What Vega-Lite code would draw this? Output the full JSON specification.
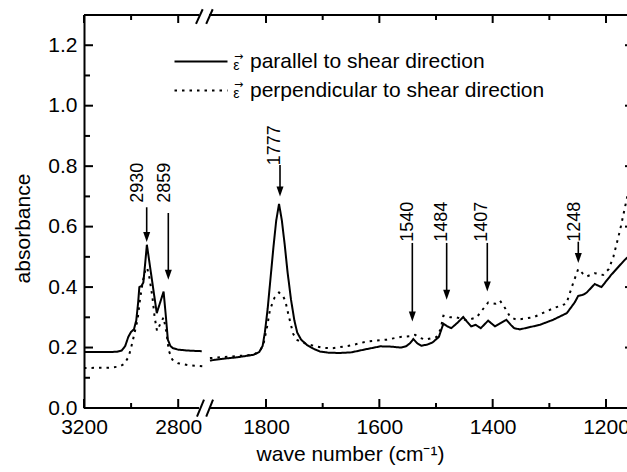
{
  "$schema": "https://vega.github.io/schema/vega-lite/v6.json",
  "width": 550,
  "height": 393,
  "autosize": {"type": "none"},
  "padding": {"left": 84, "top": 15, "right": -7, "bottom": 64},
  "background": "white",
  "config": {
    "view": {"stroke": null},
    "axis": {
      "labelFont": "Liberation Sans",
      "labelFontSize": 21,
      "labelColor": "black",
      "titleFont": "Liberation Sans",
      "titleFontSize": 21,
      "titleFontWeight": "normal",
      "titleColor": "black",
      "domainColor": "black",
      "domainWidth": 2,
      "grid": false,
      "labelOverlap": false,
      "labelFlush": false,
      "labelBound": false
    }
  },
  "datasets": {
    "curves": [
      {"s":"par","g":"L","x":3200,"y":0.185},{"s":"par","g":"L","x":3150,"y":0.185},{"s":"par","g":"L","x":3100,"y":0.185},{"s":"par","g":"L","x":3060,"y":0.186},{"s":"par","g":"L","x":3040,"y":0.19},{"s":"par","g":"L","x":3025,"y":0.205},{"s":"par","g":"L","x":3012,"y":0.235},{"s":"par","g":"L","x":3000,"y":0.252},{"s":"par","g":"L","x":2988,"y":0.26},{"s":"par","g":"L","x":2978,"y":0.29},{"s":"par","g":"L","x":2970,"y":0.35},{"s":"par","g":"L","x":2965,"y":0.40},{"s":"par","g":"L","x":2955,"y":0.405},{"s":"par","g":"L","x":2948,"y":0.415},{"s":"par","g":"L","x":2940,"y":0.48},{"s":"par","g":"L","x":2933,"y":0.54},{"s":"par","g":"L","x":2925,"y":0.497},{"s":"par","g":"L","x":2910,"y":0.416},{"s":"par","g":"L","x":2900,"y":0.362},{"s":"par","g":"L","x":2891,"y":0.314},{"s":"par","g":"L","x":2875,"y":0.353},{"s":"par","g":"L","x":2862,"y":0.385},{"s":"par","g":"L","x":2852,"y":0.30},{"s":"par","g":"L","x":2844,"y":0.226},{"s":"par","g":"L","x":2833,"y":0.205},{"s":"par","g":"L","x":2823,"y":0.198},{"s":"par","g":"L","x":2800,"y":0.193},{"s":"par","g":"L","x":2760,"y":0.19},{"s":"par","g":"L","x":2700,"y":0.188},
      {"s":"perp","g":"L","x":3200,"y":0.132},{"s":"perp","g":"L","x":3150,"y":0.133},{"s":"perp","g":"L","x":3100,"y":0.133},{"s":"perp","g":"L","x":3050,"y":0.137},{"s":"perp","g":"L","x":3030,"y":0.145},{"s":"perp","g":"L","x":3010,"y":0.17},{"s":"perp","g":"L","x":2995,"y":0.215},{"s":"perp","g":"L","x":2985,"y":0.25},{"s":"perp","g":"L","x":2973,"y":0.29},{"s":"perp","g":"L","x":2962,"y":0.36},{"s":"perp","g":"L","x":2950,"y":0.42},{"s":"perp","g":"L","x":2940,"y":0.455},{"s":"perp","g":"L","x":2932,"y":0.465},{"s":"perp","g":"L","x":2922,"y":0.43},{"s":"perp","g":"L","x":2910,"y":0.37},{"s":"perp","g":"L","x":2900,"y":0.30},{"s":"perp","g":"L","x":2890,"y":0.255},{"s":"perp","g":"L","x":2875,"y":0.28},{"s":"perp","g":"L","x":2862,"y":0.30},{"s":"perp","g":"L","x":2850,"y":0.25},{"s":"perp","g":"L","x":2840,"y":0.19},{"s":"perp","g":"L","x":2825,"y":0.16},{"s":"perp","g":"L","x":2800,"y":0.148},{"s":"perp","g":"L","x":2760,"y":0.142},{"s":"perp","g":"L","x":2695,"y":0.138},
      {"s":"par","g":"R","x":1899,"y":0.157},{"s":"par","g":"R","x":1880,"y":0.162},{"s":"par","g":"R","x":1850,"y":0.168},{"s":"par","g":"R","x":1822,"y":0.176},{"s":"par","g":"R","x":1812,"y":0.185},{"s":"par","g":"R","x":1806,"y":0.205},{"s":"par","g":"R","x":1802,"y":0.25},{"s":"par","g":"R","x":1797,"y":0.33},{"s":"par","g":"R","x":1792,"y":0.43},{"s":"par","g":"R","x":1787,"y":0.53},{"s":"par","g":"R","x":1782,"y":0.62},{"s":"par","g":"R","x":1777,"y":0.675},{"s":"par","g":"R","x":1772,"y":0.62},{"s":"par","g":"R","x":1767,"y":0.54},{"s":"par","g":"R","x":1762,"y":0.45},{"s":"par","g":"R","x":1756,"y":0.36},{"s":"par","g":"R","x":1750,"y":0.29},{"s":"par","g":"R","x":1745,"y":0.25},{"s":"par","g":"R","x":1738,"y":0.226},{"s":"par","g":"R","x":1728,"y":0.209},{"s":"par","g":"R","x":1715,"y":0.195},{"s":"par","g":"R","x":1705,"y":0.187},{"s":"par","g":"R","x":1690,"y":0.183},{"s":"par","g":"R","x":1670,"y":0.182},{"s":"par","g":"R","x":1650,"y":0.184},{"s":"par","g":"R","x":1622,"y":0.195},{"s":"par","g":"R","x":1598,"y":0.204},{"s":"par","g":"R","x":1580,"y":0.203},{"s":"par","g":"R","x":1562,"y":0.2},{"s":"par","g":"R","x":1553,"y":0.204},{"s":"par","g":"R","x":1546,"y":0.214},{"s":"par","g":"R","x":1540,"y":0.228},{"s":"par","g":"R","x":1533,"y":0.214},{"s":"par","g":"R","x":1526,"y":0.206},{"s":"par","g":"R","x":1515,"y":0.21},{"s":"par","g":"R","x":1506,"y":0.217},{"s":"par","g":"R","x":1495,"y":0.235},{"s":"par","g":"R","x":1487,"y":0.279},{"s":"par","g":"R","x":1480,"y":0.27},{"s":"par","g":"R","x":1473,"y":0.264},{"s":"par","g":"R","x":1461,"y":0.284},{"s":"par","g":"R","x":1452,"y":0.301},{"s":"par","g":"R","x":1445,"y":0.285},{"s":"par","g":"R","x":1438,"y":0.27},{"s":"par","g":"R","x":1430,"y":0.275},{"s":"par","g":"R","x":1421,"y":0.264},{"s":"par","g":"R","x":1408,"y":0.289},{"s":"par","g":"R","x":1396,"y":0.27},{"s":"par","g":"R","x":1387,"y":0.28},{"s":"par","g":"R","x":1376,"y":0.292},{"s":"par","g":"R","x":1368,"y":0.275},{"s":"par","g":"R","x":1362,"y":0.264},{"s":"par","g":"R","x":1352,"y":0.26},{"s":"par","g":"R","x":1317,"y":0.275},{"s":"par","g":"R","x":1293,"y":0.292},{"s":"par","g":"R","x":1269,"y":0.314},{"s":"par","g":"R","x":1255,"y":0.35},{"s":"par","g":"R","x":1249,"y":0.371},{"s":"par","g":"R","x":1240,"y":0.375},{"s":"par","g":"R","x":1234,"y":0.382},{"s":"par","g":"R","x":1220,"y":0.41},{"s":"par","g":"R","x":1208,"y":0.4},{"s":"par","g":"R","x":1191,"y":0.44},{"s":"par","g":"R","x":1167,"y":0.49},{"s":"par","g":"R","x":1155,"y":0.51},
      {"s":"perp","g":"R","x":1899,"y":0.165},{"s":"perp","g":"R","x":1880,"y":0.168},{"s":"perp","g":"R","x":1850,"y":0.172},{"s":"perp","g":"R","x":1822,"y":0.176},{"s":"perp","g":"R","x":1810,"y":0.19},{"s":"perp","g":"R","x":1804,"y":0.215},{"s":"perp","g":"R","x":1798,"y":0.27},{"s":"perp","g":"R","x":1793,"y":0.325},{"s":"perp","g":"R","x":1785,"y":0.365},{"s":"perp","g":"R","x":1777,"y":0.382},{"s":"perp","g":"R","x":1770,"y":0.37},{"s":"perp","g":"R","x":1766,"y":0.355},{"s":"perp","g":"R","x":1760,"y":0.305},{"s":"perp","g":"R","x":1752,"y":0.245},{"s":"perp","g":"R","x":1745,"y":0.225},{"s":"perp","g":"R","x":1740,"y":0.22},{"s":"perp","g":"R","x":1725,"y":0.21},{"s":"perp","g":"R","x":1712,"y":0.204},{"s":"perp","g":"R","x":1700,"y":0.199},{"s":"perp","g":"R","x":1682,"y":0.198},{"s":"perp","g":"R","x":1650,"y":0.207},{"s":"perp","g":"R","x":1622,"y":0.22},{"s":"perp","g":"R","x":1587,"y":0.226},{"s":"perp","g":"R","x":1563,"y":0.235},{"s":"perp","g":"R","x":1545,"y":0.238},{"s":"perp","g":"R","x":1537,"y":0.242},{"s":"perp","g":"R","x":1528,"y":0.232},{"s":"perp","g":"R","x":1519,"y":0.226},{"s":"perp","g":"R","x":1499,"y":0.235},{"s":"perp","g":"R","x":1492,"y":0.26},{"s":"perp","g":"R","x":1487,"y":0.305},{"s":"perp","g":"R","x":1475,"y":0.30},{"s":"perp","g":"R","x":1464,"y":0.30},{"s":"perp","g":"R","x":1446,"y":0.29},{"s":"perp","g":"R","x":1428,"y":0.30},{"s":"perp","g":"R","x":1418,"y":0.325},{"s":"perp","g":"R","x":1408,"y":0.349},{"s":"perp","g":"R","x":1395,"y":0.345},{"s":"perp","g":"R","x":1387,"y":0.355},{"s":"perp","g":"R","x":1378,"y":0.33},{"s":"perp","g":"R","x":1369,"y":0.301},{"s":"perp","g":"R","x":1358,"y":0.292},{"s":"perp","g":"R","x":1328,"y":0.30},{"s":"perp","g":"R","x":1293,"y":0.33},{"s":"perp","g":"R","x":1270,"y":0.345},{"s":"perp","g":"R","x":1258,"y":0.413},{"s":"perp","g":"R","x":1249,"y":0.46},{"s":"perp","g":"R","x":1241,"y":0.445},{"s":"perp","g":"R","x":1234,"y":0.435},{"s":"perp","g":"R","x":1220,"y":0.446},{"s":"perp","g":"R","x":1205,"y":0.44},{"s":"perp","g":"R","x":1195,"y":0.46},{"s":"perp","g":"R","x":1187,"y":0.50},{"s":"perp","g":"R","x":1175,"y":0.59},{"s":"perp","g":"R","x":1167,"y":0.66},{"s":"perp","g":"R","x":1160,"y":0.72},{"s":"perp","g":"R","x":1155,"y":0.76}
    ],
    "segs": [
      {"x1":3200,"x2":2711.7,"y1":0,"y2":0},{"x1":1900.6,"x2":1150.6,"y1":0,"y2":0},
      {"x1":3200,"x2":2711.7,"y1":1.3,"y2":1.3},{"x1":1900.6,"x2":1150.6,"y1":1.3,"y2":1.3},
      {"x1":2724.4,"y1":1.2704,"x2":2696.0,"y2":1.319},
      {"x1":1905.5,"y1":1.2704,"x2":1894.1,"y2":1.319},
      {"x1":2720.2,"y1":-0.0288,"x2":2690.4,"y2":0.0274},
      {"x1":1905.5,"y1":-0.0288,"x2":1893.5,"y2":0.0274},
      {"x1":3200,"x2":3200,"y1":0,"y2":0.0298},{"x1":2800,"x2":2800,"y1":0,"y2":0.0298},{"x1":1800,"x2":1800,"y1":0,"y2":0.0298},{"x1":1600,"x2":1600,"y1":0,"y2":0.0298},{"x1":1400,"x2":1400,"y1":0,"y2":0.0298},{"x1":1200,"x2":1200,"y1":0,"y2":0.0298},
      {"x1":3000,"x2":3000,"y1":0,"y2":0.0165},{"x1":1700,"x2":1700,"y1":0,"y2":0.0165},{"x1":1500,"x2":1500,"y1":0,"y2":0.0165},{"x1":1300,"x2":1300,"y1":0,"y2":0.0165},
      {"x1":3200,"x2":3200,"y1":1.3,"y2":1.2736},{"x1":2800,"x2":2800,"y1":1.3,"y2":1.2736},{"x1":1800,"x2":1800,"y1":1.3,"y2":1.2736},{"x1":1600,"x2":1600,"y1":1.3,"y2":1.2736},{"x1":1400,"x2":1400,"y1":1.3,"y2":1.2736},{"x1":1200,"x2":1200,"y1":1.3,"y2":1.2736},
      {"x1":3000,"x2":3000,"y1":1.3,"y2":1.2835},{"x1":1700,"x2":1700,"y1":1.3,"y2":1.2835},{"x1":1500,"x2":1500,"y1":1.3,"y2":1.2835},{"x1":1300,"x2":1300,"y1":1.3,"y2":1.2835},
      {"x1":3200,"x2":3161.8,"y1":0.2,"y2":0.2},{"x1":3200,"x2":3161.8,"y1":0.4,"y2":0.4},{"x1":3200,"x2":3161.8,"y1":0.6,"y2":0.6},{"x1":3200,"x2":3161.8,"y1":0.8,"y2":0.8},{"x1":3200,"x2":3161.8,"y1":1.0,"y2":1.0},{"x1":3200,"x2":3161.8,"y1":1.2,"y2":1.2},
      {"x1":3200,"x2":3174.5,"y1":0.1,"y2":0.1},{"x1":3200,"x2":3174.5,"y1":0.3,"y2":0.3},{"x1":3200,"x2":3174.5,"y1":0.5,"y2":0.5},{"x1":3200,"x2":3174.5,"y1":0.7,"y2":0.7},{"x1":3200,"x2":3174.5,"y1":0.9,"y2":0.9},{"x1":3200,"x2":3174.5,"y1":1.1,"y2":1.1},
      {"x1":1150.6,"x2":1166.5,"y1":0.2,"y2":0.2},{"x1":1150.6,"x2":1166.5,"y1":0.4,"y2":0.4},{"x1":1150.6,"x2":1166.5,"y1":0.6,"y2":0.6},{"x1":1150.6,"x2":1166.5,"y1":0.8,"y2":0.8},{"x1":1150.6,"x2":1166.5,"y1":1.0,"y2":1.0},{"x1":1150.6,"x2":1166.5,"y1":1.2,"y2":1.2},
      {"x1":1150.6,"x2":1161.2,"y1":0.1,"y2":0.1},{"x1":1150.6,"x2":1161.2,"y1":0.3,"y2":0.3},{"x1":1150.6,"x2":1161.2,"y1":0.5,"y2":0.5},{"x1":1150.6,"x2":1161.2,"y1":0.7,"y2":0.7},{"x1":1150.6,"x2":1161.2,"y1":0.9,"y2":0.9},{"x1":1150.6,"x2":1161.2,"y1":1.1,"y2":1.1}
    ],
    "arrows": [
      {"t":"2930","x":2933.8,"top":0.664,"head":0.566,"tx":2969.4,"ty":0.745},
      {"t":"2859","x":2842.0,"top":0.645,"head":0.441,"tx":2854.0,"ty":0.745},
      {"t":"1777","x":1775.3,"top":0.804,"head":0.716,"tx":1784.1,"ty":0.869},
      {"t":"1540","x":1541.8,"top":0.546,"head":0.303,"tx":1550.3,"ty":0.616},
      {"t":"1484","x":1481.2,"top":0.546,"head":0.375,"tx":1490.0,"ty":0.616},
      {"t":"1407","x":1409.5,"top":0.546,"head":0.402,"tx":1418.0,"ty":0.616},
      {"t":"1248","x":1248.9,"top":0.550,"head":0.496,"tx":1254.7,"ty":0.616}
    ],
    "eps": [
      {"x":1852.1,"y":1.1316,"ax":1848.5,"ay":1.1613},
      {"x":1852.1,"y":1.039,"ax":1848.5,"ay":1.0688}
    ]
  },
  "layer": [
    {
      "data": {"name": "segs"},
      "mark": {"type": "rule", "color": "black", "strokeWidth": 2},
      "encoding": {
        "x": {
          "field": "x1", "type": "quantitative",
          "scale": {"domain": [3200, 2686.2, 1905.9, 1150.6], "range": [0, 121, 122, 550], "nice": false, "zero": false},
          "axis": {
            "orient": "bottom",
            "values": [3200, 2800, 1800, 1600, 1400, 1200],
            "format": "d",
            "ticks": false,
            "labelPadding": 8,
            "domain": false,
            "title": "wave number (cm⁻¹)",
            "titleX": 266,
            "titleY": 35,
            "titleBaseline": "top"
          }
        },
        "x2": {"field": "x2"},
        "y": {
          "field": "y1", "type": "quantitative",
          "scale": {"domain": [0, 1.3], "nice": false, "zero": false},
          "axis": {
            "orient": "left",
            "values": [0, 0.2, 0.4, 0.6, 0.8, 1.0, 1.2],
            "format": ".1f",
            "ticks": false,
            "labelPadding": 7,
            "domain": true,
            "title": "absorbance",
            "titleAngle": 270,
            "titleBaseline": "bottom",
            "titleX": -51,
            "titleY": 213
          }
        },
        "y2": {"field": "y2"}
      }
    },
    {
      "data": {"name": "curves"},
      "mark": {"type": "line", "color": "black", "strokeWidth": 2, "clip": false},
      "encoding": {
        "x": {"field": "x", "type": "quantitative", "title": "wave number (cm⁻¹)"},
        "y": {"field": "y", "type": "quantitative", "title": "absorbance"},
        "strokeDash": {
          "field": "s", "type": "nominal",
          "scale": {"domain": ["par", "perp"], "range": [[1, 0], [2.5, 5]]},
          "legend": {
            "orient": "none",
            "legendX": 80,
            "legendY": 36,
            "title": null,
            "padding": 0,
            "symbolType": "M0,0H20",
            "symbolSize": 28.09,
            "symbolStrokeWidth": 2,
            "symbolStrokeColor": "black",
            "symbolFillColor": "transparent",
            "labelFont": "Liberation Sans",
            "labelFontSize": 21,
            "labelColor": "black",
            "labelOffset": 65,
            "labelLimit": 0,
            "rowPadding": 7,
            "labelExpr": "datum.value == 'par' ? 'parallel to shear direction' : 'perpendicular to shear direction'"
          }
        },
        "detail": {"field": "g"}
      }
    },
    {
      "data": {"name": "arrows"},
      "mark": {"type": "rule", "color": "black", "strokeWidth": 1.6},
      "encoding": {
        "x": {"field": "x", "type": "quantitative", "title": "wave number (cm⁻¹)"},
        "y": {"field": "top", "type": "quantitative", "title": "absorbance"},
        "y2": {"field": "head"}
      }
    },
    {
      "data": {"name": "arrows"},
      "mark": {"type": "point", "shape": "M-0.7,-1L0.7,-1L0,1Z", "filled": true, "size": 100, "color": "black", "opacity": 1, "strokeWidth": 0},
      "encoding": {
        "x": {"field": "x", "type": "quantitative", "title": "wave number (cm⁻¹)"},
        "y": {"field": "head", "type": "quantitative", "title": "absorbance"}
      }
    },
    {
      "data": {"name": "arrows"},
      "mark": {"type": "text", "angle": 270, "font": "Liberation Sans", "fontSize": 18, "align": "center", "baseline": "middle", "color": "black"},
      "encoding": {
        "x": {"field": "tx", "type": "quantitative", "title": "wave number (cm⁻¹)"},
        "y": {"field": "ty", "type": "quantitative", "title": "absorbance"},
        "text": {"field": "t"}
      }
    },
    {
      "data": {"name": "eps"},
      "mark": {"type": "text", "font": "Liberation Sans", "fontSize": 14, "align": "center", "baseline": "middle", "color": "black", "text": "ε"},
      "encoding": {
        "x": {"field": "x", "type": "quantitative", "title": "wave number (cm⁻¹)"},
        "y": {"field": "y", "type": "quantitative", "title": "absorbance"}
      }
    },
    {
      "data": {"name": "eps"},
      "mark": {"type": "text", "font": "DejaVu Sans", "fontSize": 11, "align": "center", "baseline": "middle", "color": "black", "text": "→"},
      "encoding": {
        "x": {"field": "ax", "type": "quantitative", "title": "wave number (cm⁻¹)"},
        "y": {"field": "ay", "type": "quantitative", "title": "absorbance"}
      }
    }
  ]
}
